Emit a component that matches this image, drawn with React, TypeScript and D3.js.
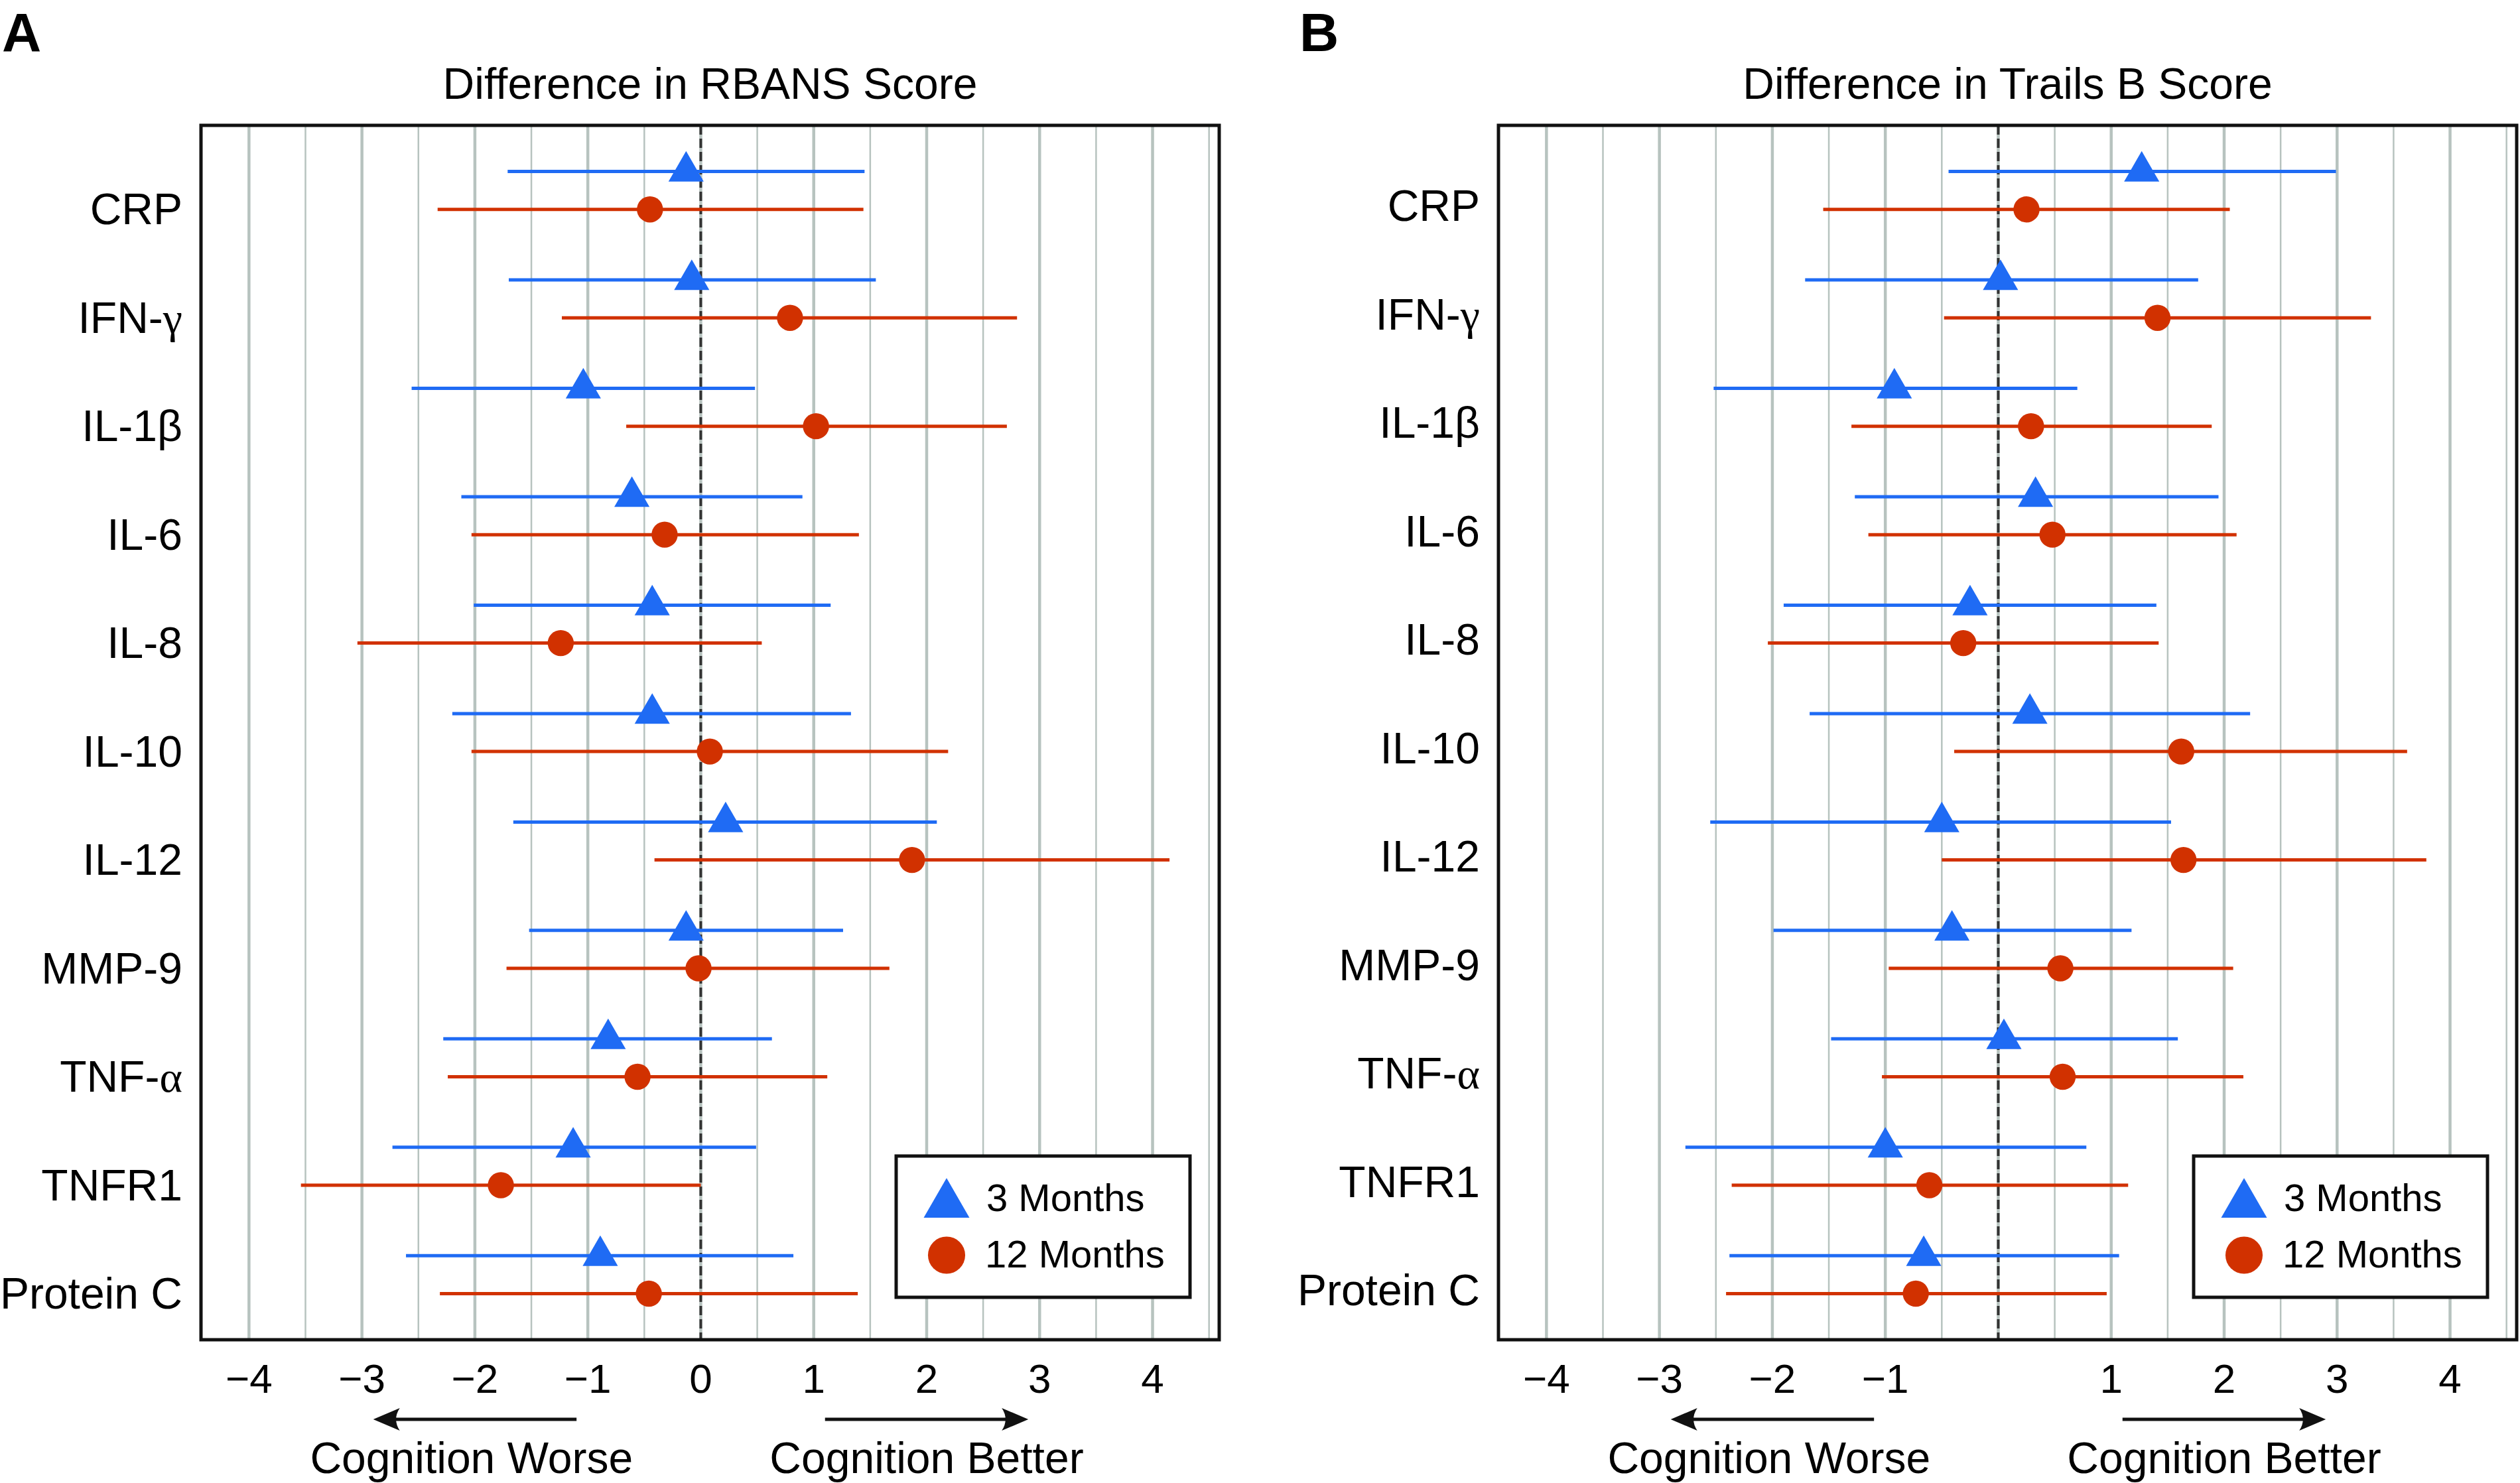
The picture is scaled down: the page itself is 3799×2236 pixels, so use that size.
import React from "react";
import * as d3 from "d3";

const categories = ["CRP", "IFN-γ", "IL-1β", "IL-6", "IL-8", "IL-10", "IL-12", "MMP-9", "TNF-α", "TNFR1", "Protein C"];

// Panel A: Difference in RBANS Score
const rbans3 = [-0.13, -0.08, -1.04, -0.61, -0.43, -0.43, 0.22, -0.13, -0.82, -1.13, -0.89];
const rbans3Lo = [-1.71, -1.70, -2.56, -2.12, -2.01, -2.20, -1.66, -1.52, -2.28, -2.73, -2.61];
const rbans3Hi = [1.45, 1.55, 0.48, 0.90, 1.15, 1.33, 2.09, 1.26, 0.63, 0.49, 0.82];
const rbans12 = [-0.45, 0.79, 1.02, -0.32, -1.24, 0.08, 1.87, -0.02, -0.56, -1.77, -0.46];
const rbans12Lo = [-2.33, -1.23, -0.66, -2.03, -3.04, -2.03, -0.41, -1.72, -2.24, -3.54, -2.31];
const rbans12Hi = [1.44, 2.80, 2.71, 1.40, 0.54, 2.19, 4.15, 1.67, 1.12, 0.0, 1.39];

// Panel B: Difference in Trails B Score
const trails3 = [1.27, 0.02, -0.92, 0.33, -0.25, 0.28, -0.50, -0.41, 0.05, -1.0, -0.66];
const trails3Lo = [-0.44, -1.71, -2.52, -1.27, -1.90, -1.67, -2.55, -1.99, -1.48, -2.77, -2.38];
const trails3Hi = [2.99, 1.77, 0.70, 1.95, 1.40, 2.23, 1.53, 1.18, 1.59, 0.78, 1.07];
const trails12 = [0.25, 1.41, 0.29, 0.48, -0.31, 1.62, 1.64, 0.55, 0.57, -0.61, -0.73];
const trails12Lo = [-1.55, -0.48, -1.30, -1.15, -2.04, -0.39, -0.50, -0.97, -1.03, -2.36, -2.41];
const trails12Hi = [2.05, 3.30, 1.89, 2.11, 1.42, 3.62, 3.79, 2.08, 2.17, 1.15, 0.96];

const ticksA = [-4, -3, -2, -1, 0, 1, 2, 3, 4];
const ticksB = [-4, -3, -2, -1, 1, 2, 3, 4];
const gridValues = d3.range(-4, 4.51, 0.5);
const seriesNames = ["3 Months", "12 Months"];

const BLUE = "#1f6bf4";
const RED = "#d13100";
const GRID = "#b7c3bf";
const FONT = "'Liberation Sans', Arial, Helvetica, sans-serif";

const W = 3799;
const H = 2236;
const TOP = 189;
const BOTTOM = 2020;
const PW = 1535;
const ROW_OFF = 28.6;

function fmt(v: number) {
  return v < 0 ? "\u2212" + Math.abs(v) : String(v);
}

function Label({ text, x, y }: { text: string; x: number; y: number }) {
  const m = text.match(/^(.*-)([γβα])$/);
  if (m) {
    return (
      <text x={x} y={y} textAnchor="end" fontSize={66} fontFamily={FONT}>
        {m[1]}
        <tspan fontFamily="'Liberation Serif', 'DejaVu Serif', serif">{m[2]}</tspan>
      </text>
    );
  }
  return (
    <text x={x} y={y} textAnchor="end" fontSize={66} fontFamily={FONT}>
      {text}
    </text>
  );
}

function Arrow({ x1, x2, y }: { x1: number; x2: number; y: number }) {
  const dir = x2 > x1 ? 1 : -1;
  const L = 40;
  const hh = 17;
  const back = x2 - dir * L;
  const notch = x2 - dir * L * 0.72;
  const head = `M${x2},${y} L${back},${y - hh} Q${notch},${y} ${back},${y + hh} Z`;
  return (
    <g>
      <line x1={x1} x2={notch} y1={y} y2={y} stroke="#111" strokeWidth={5} />
      <path d={head} fill="#111" />
    </g>
  );
}

function Panel({
  letter, title, left, ticks, est3, lo3, hi3, est12, lo12, hi12, labelShift,
}: any) {
  const x = d3.scaleLinear().domain([-4.425, 4.59]).range([left, left + PW]);
  const y = d3.scalePoint<string>().domain(categories).range([TOP, BOTTOM]).padding(0.6);
  const right = left + PW;
  const tri = d3.symbol().type(d3.symbolTriangle).size(1220)();
  const circ = d3.symbol().type(d3.symbolCircle).size(1220)();
  const triL = d3.symbol().type(d3.symbolTriangle).size(2060)();
  const circL = d3.symbol().type(d3.symbolCircle).size(2470)();
  const legW = 443;
  const legX = right - 44 - legW;
  return (
    <g>
      <text x={left - 300} y={77} fontSize={82} fontWeight="bold" fontFamily={FONT}>{letter}</text>
      <text x={(left + right) / 2} y={148.5} textAnchor="middle" fontSize={66} fontFamily={FONT}>{title}</text>
      {gridValues.map((g) => (
        <line key={g} x1={x(g)} x2={x(g)} y1={TOP} y2={BOTTOM} stroke={GRID}
          strokeWidth={Number.isInteger(g) ? 4.5 : 2.5} />
      ))}
      <line x1={x(0)} x2={x(0)} y1={TOP} y2={BOTTOM} stroke="#333" strokeWidth={4} strokeDasharray="14,6" />
      {categories.map((c, i) => {
        const yc = y(c) as number;
        return (
          <g key={c}>
            <line x1={x(lo3[i])} x2={x(hi3[i])} y1={yc - ROW_OFF} y2={yc - ROW_OFF} stroke={BLUE} strokeWidth={5} />
            <path d={tri as string} transform={`translate(${x(est3[i])},${yc - ROW_OFF})`} fill={BLUE} />
            <line x1={x(lo12[i])} x2={x(hi12[i])} y1={yc + ROW_OFF} y2={yc + ROW_OFF} stroke={RED} strokeWidth={5} />
            <path d={circ as string} transform={`translate(${x(est12[i])},${yc + ROW_OFF})`} fill={RED} />
            <Label text={c} x={left - 28} y={yc + ROW_OFF + labelShift + 23.5} />
          </g>
        );
      })}
      <rect x={left} y={TOP} width={PW} height={BOTTOM - TOP} fill="none" stroke="#111" strokeWidth={5} />
      {ticks.map((t: number) => (
        <text key={t} x={x(t)} y={2100} textAnchor="middle" fontSize={62} fontFamily={FONT}>{fmt(t)}</text>
      ))}
      <g>
        <rect x={legX} y={1743} width={legW} height={213} fill="#fff" stroke="#111" strokeWidth={5} />
        <path d={triL as string} transform={`translate(${legX + 76},1816)`} fill={BLUE} />
        <path d={circL as string} transform={`translate(${legX + 76},1892.5)`} fill={RED} />
        <text x={legX + 136} y={1826} fontSize={58} fontFamily={FONT}>{seriesNames[0]}</text>
        <text x={legX + 134} y={1911} fontSize={58} fontFamily={FONT}>{seriesNames[1]}</text>
      </g>
      <Arrow x1={x(-1.1)} x2={x(-2.9)} y={2140} />
      <Arrow x1={x(1.1)} x2={x(2.9)} y={2140} />
      <text x={x(-2.03)} y={2221} textAnchor="middle" fontSize={66} fontFamily={FONT}>Cognition Worse</text>
      <text x={x(2)} y={2221} textAnchor="middle" fontSize={66} fontFamily={FONT}>Cognition Better</text>
    </g>
  );
}

export default function App() {
  return (
    <svg width={W} height={H} viewBox={`0 0 ${W} ${H}`}
      style={{ position: "absolute", left: 0, top: 0, background: "#fff" }}>
      <rect x={0} y={0} width={W} height={H} fill="#fff" />
      <Panel letter="A" title="Difference in RBANS Score" left={303} ticks={ticksA}
        est3={rbans3} lo3={rbans3Lo} hi3={rbans3Hi}
        est12={rbans12} lo12={rbans12Lo} hi12={rbans12Hi} labelShift={-1} />
      <Panel letter="B" title="Difference in Trails B Score" left={2259} ticks={ticksB}
        est3={trails3} lo3={trails3Lo} hi3={trails3Hi}
        est12={trails12} lo12={trails12Lo} hi12={trails12Hi} labelShift={-6} />
    </svg>
  );
}
